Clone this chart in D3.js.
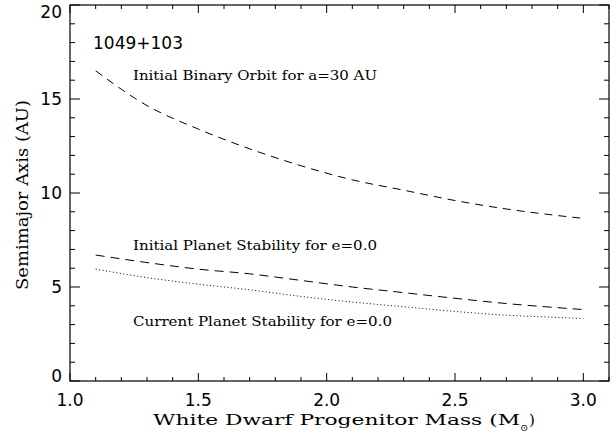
<!DOCTYPE html>
<html><head><meta charset="utf-8">
<script src="https://cdn.jsdelivr.net/npm/d3@7"></script>
<style>body{margin:0;background:#fff}svg{display:block}</style>
</head><body>
<svg id="c" width="616" height="433"></svg>
<script>
const massBinary   = [1.1, 1.3, 1.5, 1.7, 1.9, 2.1, 2.3, 2.5, 2.7, 2.9, 3.0];
const binaryOrbit  = [16.5, 14.65, 13.4, 12.35, 11.45, 10.7, 10.15, 9.6, 9.15, 8.8, 8.65];
const massPlanet   = [1.1, 1.3, 1.5, 1.7, 1.9, 2.1, 2.3, 2.5, 2.7, 2.9, 3.0];
const initialPlanet= [6.7, 6.3, 5.95, 5.7, 5.35, 5.0, 4.7, 4.4, 4.12, 3.9, 3.8];
const currentPlanet= [5.95, 5.5, 5.15, 4.85, 4.5, 4.2, 3.95, 3.7, 3.5, 3.38, 3.32];
const xTicks = [1.0, 1.5, 2.0, 2.5, 3.0];
const yTicks = [0, 5, 10, 15, 20];

const svg = d3.select("#c");
const L=70, R=609, T=5, B=381;
const x = d3.scaleLinear().domain([1.0, 3.1]).range([L, R]);
const y = d3.scaleLinear().domain([0, 20]).range([B, T]);
const sans = "'DejaVu Sans', sans-serif";
const serif = "'DejaVu Serif', serif";

const g = svg.append("g");
g.append("rect").attr("x",L).attr("y",T).attr("width",R-L).attr("height",B-T)
  .attr("fill","none").attr("stroke","#000").attr("stroke-width",1.2);

const xMinor = d3.range(1.0, 3.1001, 0.1);
const yMinor = d3.range(0, 20.001, 1);
xMinor.forEach(v=>{
  const major = xTicks.some(t=>Math.abs(t-v)<1e-6);
  const len = major?8:4;
  g.append("line").attr("x1",x(v)).attr("x2",x(v)).attr("y1",B).attr("y2",B-len).attr("stroke","#000");
  g.append("line").attr("x1",x(v)).attr("x2",x(v)).attr("y1",T).attr("y2",T+len).attr("stroke","#000");
});
yMinor.forEach(v=>{
  const major = yTicks.some(t=>Math.abs(t-v)<1e-6);
  const len = major?10:5;
  g.append("line").attr("y1",y(v)).attr("y2",y(v)).attr("x1",L).attr("x2",L+len).attr("stroke","#000");
  g.append("line").attr("y1",y(v)).attr("y2",y(v)).attr("x1",R).attr("x2",R-len).attr("stroke","#000");
});
xTicks.forEach(v=>{
  g.append("text").attr("x",x(v)).attr("y",406).attr("text-anchor","middle")
   .attr("font-family",sans).attr("font-size",17).text(v.toFixed(1));
});
yTicks.forEach(v=>{
  let cy = y(v);
  if (v===20) cy = 12;
  if (v===0) cy = 376;
  g.append("text").attr("x",62).attr("y",cy+6).attr("text-anchor","end")
   .attr("font-family",sans).attr("font-size",17).text(v);
});

g.append("text").attr("x",153).attr("y",425).attr("font-family",serif).attr("font-size",15)
  .attr("textLength",367).attr("lengthAdjust","spacingAndGlyphs").text("White Dwarf Progenitor Mass (M");
g.append("text").attr("x",520).attr("y",431).attr("font-family",serif).attr("font-size",10).text("\u2299");
g.append("text").attr("x",529).attr("y",425).attr("font-family",serif).attr("font-size",15).text(")");

g.append("text").attr("transform","translate(28,195) rotate(-90)").attr("text-anchor","middle")
  .attr("font-family",serif).attr("font-size",16)
  .attr("textLength",190).attr("lengthAdjust","spacingAndGlyphs").text("Semimajor Axis (AU)");

const line = d3.line().x(d=>x(d[0])).y(d=>y(d[1])).curve(d3.curveMonotoneX);
g.append("path").datum(d3.zip(massBinary, binaryOrbit)).attr("d",line)
  .attr("fill","none").attr("stroke","#000").attr("stroke-width",1).attr("stroke-dasharray","8,6");
g.append("path").datum(d3.zip(massPlanet, initialPlanet)).attr("d",line)
  .attr("fill","none").attr("stroke","#000").attr("stroke-width",1).attr("stroke-dasharray","9,6");
g.append("path").datum(d3.zip(massPlanet, currentPlanet)).attr("d",line)
  .attr("fill","none").attr("stroke","#000").attr("stroke-width",1).attr("stroke-dasharray","1,2.5");

g.append("text").attr("x",93).attr("y",49).attr("font-family",sans).attr("font-size",17).text("1049+103");
const ann = [["Initial Binary Orbit for a=30 AU",80,244],["Initial Planet Stability for e=0.0",250,244],["Current Planet Stability for e=0.0",326,259]];
ann.forEach(a=>{
  g.append("text").attr("x",133).attr("y",a[1]).attr("font-family",serif).attr("font-size",13)
   .attr("textLength",a[2]).attr("lengthAdjust","spacingAndGlyphs").text(a[0]);
});
</script>
</body></html>
